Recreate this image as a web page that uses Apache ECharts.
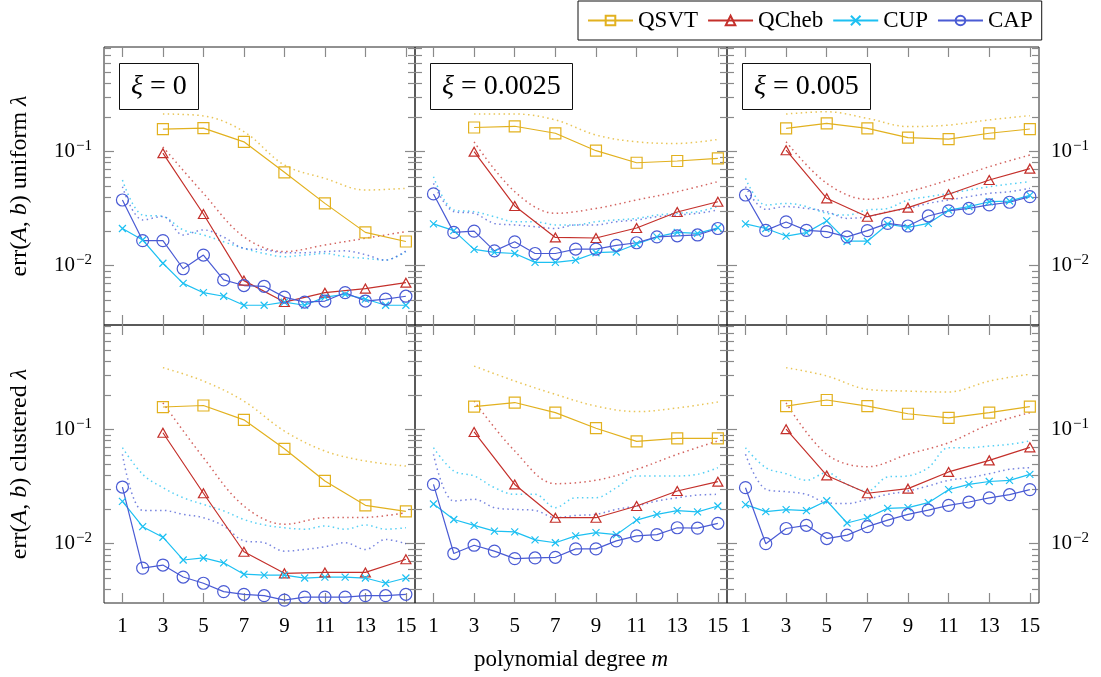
<!DOCTYPE html>
<html><head><meta charset="utf-8">
<script src="https://cdn.jsdelivr.net/npm/echarts@6/dist/echarts.min.js"></script>
<style>html,body{margin:0;padding:0;background:#fff}#c{width:1101px;height:677px}</style>
</head><body><div id="c"></div>
<script>
// ---------- data ----------
const M_ALL = [1,2,3,4,5,6,7,8,9,10,11,12,13,14,15];
const M_ODD = [3,5,7,9,11,13,15];
const X_TICKS = [1,3,5,7,9,11,13,15];
const Y_MAJOR = [0.01, 0.1];
const Y_MINOR = [0.003,0.004,0.005,0.006,0.007,0.008,0.009,0.02,0.03,0.04,0.05,0.06,0.07,0.08,0.09,0.2,0.3,0.4,0.5,0.6,0.7,0.8];
const XI_LABELS = ['0', '0.0025', '0.005'];
const ROW_LABELS = ['uniform', 'clustered'];
const SERIES_NAMES = ['QSVT', 'QCheb', 'CUP', 'CAP'];

// uniform λ, ξ = 0
const QSVT_U0 = [0.158, 0.161, 0.122, 0.0659, 0.0352, 0.0196, 0.0163];
const QCHEB_U0 = [0.097, 0.0284, 0.0074, 0.0048, 0.0058, 0.0063, 0.0071];
const CUP_U0 = [0.0212, 0.0168, 0.0105, 0.0070, 0.0058, 0.0054, 0.0045, 0.0045, 0.0048, 0.0045, 0.0053, 0.0056, 0.0051, 0.0045, 0.0045];
const CAP_U0 = [0.0377, 0.0166, 0.0166, 0.0094, 0.0124, 0.0075, 0.0067, 0.0066, 0.0053, 0.0048, 0.0049, 0.0058, 0.0049, 0.0051, 0.0054];
const QSVT_DOT_U0 = [0.214, 0.206, 0.150, 0.0763, 0.0583, 0.0461, 0.0477];
const QCHEB_DOT_U0 = [0.11, 0.0431, 0.0179, 0.0133, 0.0152, 0.0174, 0.0199];
const CUP_DOT_U0 = [0.0564, 0.0278, 0.027, 0.0206, 0.0186, 0.0162, 0.0142, 0.0128, 0.012, 0.0124, 0.0128, 0.012, 0.0116, 0.0112, 0.0133];
const CAP_DOT_U0 = [0.0493, 0.0252, 0.027, 0.0186, 0.0206, 0.0178, 0.0142, 0.0138, 0.013, 0.013, 0.0133, 0.0135, 0.0125, 0.0112, 0.0135];

// uniform λ, ξ = 0.0025
const QSVT_U1 = [0.163, 0.167, 0.145, 0.102, 0.080, 0.0828, 0.0874];
const QCHEB_U1 = [0.1, 0.0334, 0.0177, 0.0175, 0.0214, 0.0296, 0.0364];
const CUP_U1 = [0.0233, 0.0203, 0.0139, 0.0131, 0.0128, 0.0107, 0.0107, 0.0112, 0.013, 0.0132, 0.0155, 0.0179, 0.0196, 0.0192, 0.0215];
const CAP_U1 = [0.0426, 0.0196, 0.0201, 0.0135, 0.0162, 0.0128, 0.0128, 0.014, 0.014, 0.0151, 0.0159, 0.0179, 0.0183, 0.0186, 0.0212];
const QSVT_DOT_U1 = [0.214, 0.214, 0.19, 0.14, 0.122, 0.118, 0.128];
const QCHEB_DOT_U1 = [0.122, 0.0446, 0.0288, 0.0318, 0.0377, 0.0446, 0.0546];
const CUP_DOT_U1 = [0.0604, 0.0308, 0.0298, 0.0269, 0.0243, 0.0243, 0.0228, 0.0228, 0.0243, 0.0252, 0.026, 0.0278, 0.0288, 0.0298, 0.033];
const CAP_DOT_U1 = [0.0527, 0.0298, 0.0288, 0.0235, 0.0228, 0.022, 0.0212, 0.0228, 0.0228, 0.0243, 0.0252, 0.0269, 0.0278, 0.0288, 0.0308];

// uniform λ, ξ = 0.005
const QSVT_U2 = [0.160, 0.177, 0.160, 0.133, 0.129, 0.145, 0.158];
const QCHEB_U2 = [0.103, 0.039, 0.0269, 0.0323, 0.0423, 0.0564, 0.071];
const CUP_U2 = [0.0233, 0.0212, 0.0182, 0.0195, 0.0247, 0.0164, 0.0164, 0.0231, 0.0217, 0.0235, 0.0307, 0.033, 0.0364, 0.0369, 0.0414];
const CAP_U2 = [0.0417, 0.0204, 0.0242, 0.0204, 0.0199, 0.0179, 0.0203, 0.0235, 0.0223, 0.0273, 0.0303, 0.0318, 0.0341, 0.036, 0.0403];
const QSVT_DOT_U2 = [0.214, 0.224, 0.196, 0.166, 0.171, 0.19, 0.207];
const QCHEB_DOT_U2 = [0.122, 0.0528, 0.0382, 0.0446, 0.0564, 0.0738, 0.0935];
const CUP_DOT_U2 = [0.0583, 0.034, 0.0352, 0.033, 0.0288, 0.0278, 0.0308, 0.0318, 0.0377, 0.0403, 0.0431, 0.0461, 0.0493, 0.052, 0.0546];
const CAP_DOT_U2 = [0.0493, 0.0312, 0.033, 0.0318, 0.0298, 0.026, 0.0269, 0.0298, 0.0318, 0.0352, 0.0377, 0.0403, 0.0431, 0.0446, 0.0477];

// clustered λ, ξ = 0
const QSVT_C0 = [0.158, 0.163, 0.122, 0.068, 0.0355, 0.0217, 0.0192];
const QCHEB_C0 = [0.094, 0.0277, 0.0085, 0.0055, 0.0056, 0.0056, 0.0073];
const CUP_C0 = [0.0235, 0.0141, 0.0114, 0.0072, 0.0075, 0.0068, 0.0054, 0.0053, 0.0053, 0.0050, 0.0051, 0.0051, 0.0050, 0.0045, 0.0050];
const CAP_C0 = [0.0314, 0.0061, 0.0065, 0.0051, 0.0045, 0.0038, 0.0036, 0.0035, 0.0032, 0.0034, 0.0034, 0.0034, 0.0035, 0.0035, 0.0036];
const QSVT_DOT_C0 = [0.35, 0.267, 0.178, 0.0973, 0.065, 0.0531, 0.048];
const QCHEB_DOT_C0 = [0.172, 0.0568, 0.0214, 0.0148, 0.0169, 0.017, 0.0187];
const CUP_DOT_C0 = [0.0695, 0.0406, 0.031, 0.0253, 0.0221, 0.0194, 0.0163, 0.0146, 0.0138, 0.0134, 0.0143, 0.0134, 0.0146, 0.0134, 0.0138];
const CAP_DOT_C0 = [0.0608, 0.0196, 0.0196, 0.0181, 0.0169, 0.0143, 0.0106, 0.0102, 0.0086, 0.0089, 0.0094, 0.0102, 0.0089, 0.0109, 0.01];

// clustered λ, ξ = 0.0025
const QSVT_C1 = [0.159, 0.173, 0.141, 0.103, 0.079, 0.0839, 0.0839];
const QCHEB_C1 = [0.0955, 0.0331, 0.0169, 0.0169, 0.0214, 0.029, 0.035];
const CUP_C1 = [0.0223, 0.0163, 0.0145, 0.0129, 0.0127, 0.0108, 0.0102, 0.0117, 0.0125, 0.012, 0.0161, 0.0181, 0.0195, 0.019, 0.0214];
const CAP_C1 = [0.0331, 0.0082, 0.0097, 0.0086, 0.0074, 0.0075, 0.0076, 0.009, 0.009, 0.0106, 0.0117, 0.012, 0.0138, 0.0137, 0.0151];
const QSVT_DOT_C1 = [0.361, 0.267, 0.204, 0.161, 0.144, 0.155, 0.175];
const QCHEB_DOT_C1 = [0.178, 0.065, 0.0336, 0.036, 0.0449, 0.0608, 0.0796];
const CUP_DOT_C1 = [0.0695, 0.0434, 0.0393, 0.031, 0.0271, 0.0271, 0.0207, 0.0253, 0.0253, 0.031, 0.0393, 0.0393, 0.0393, 0.0406, 0.0464];
const CAP_DOT_C1 = [0.0608, 0.0237, 0.0245, 0.0207, 0.02, 0.0196, 0.0169, 0.0177, 0.0181, 0.02, 0.0214, 0.0237, 0.0253, 0.0267, 0.0271];

// clustered λ, ξ = 0.005
const QSVT_C2 = [0.161, 0.182, 0.161, 0.138, 0.127, 0.141, 0.159];
const QCHEB_C2 = [0.101, 0.0397, 0.0277, 0.0304, 0.0426, 0.0538, 0.07];
const CUP_C2 = [0.022, 0.0191, 0.0199, 0.0195, 0.0238, 0.0152, 0.0169, 0.0204, 0.0207, 0.0229, 0.0298, 0.0331, 0.0351, 0.0359, 0.0406];
const CAP_C2 = [0.031, 0.01, 0.0136, 0.0145, 0.0111, 0.0119, 0.0141, 0.0161, 0.0181, 0.0197, 0.0217, 0.0232, 0.0252, 0.0269, 0.0298];
const QSVT_DOT_C2 = [0.35, 0.296, 0.226, 0.218, 0.214, 0.267, 0.306];
const QCHEB_DOT_C2 = [0.172, 0.0608, 0.0473, 0.0608, 0.0769, 0.111, 0.141];
const CUP_DOT_C2 = [0.0695, 0.0464, 0.0411, 0.036, 0.042, 0.0331, 0.029, 0.0385, 0.0393, 0.0464, 0.0695, 0.0695, 0.0719, 0.0744, 0.0796];
const CAP_DOT_C2 = [0.0608, 0.03, 0.0286, 0.0271, 0.0229, 0.0225, 0.0245, 0.0271, 0.029, 0.0321, 0.036, 0.0379, 0.0411, 0.0449, 0.0464];

// ---------- build ----------
const PANELS = [
  {row:0,col:0, s:[QSVT_U0,QCHEB_U0,CUP_U0,CAP_U0], d:[QSVT_DOT_U0,QCHEB_DOT_U0,CUP_DOT_U0,CAP_DOT_U0]},
  {row:0,col:1, s:[QSVT_U1,QCHEB_U1,CUP_U1,CAP_U1], d:[QSVT_DOT_U1,QCHEB_DOT_U1,CUP_DOT_U1,CAP_DOT_U1]},
  {row:0,col:2, s:[QSVT_U2,QCHEB_U2,CUP_U2,CAP_U2], d:[QSVT_DOT_U2,QCHEB_DOT_U2,CUP_DOT_U2,CAP_DOT_U2]},
  {row:1,col:0, s:[QSVT_C0,QCHEB_C0,CUP_C0,CAP_C0], d:[QSVT_DOT_C0,QCHEB_DOT_C0,CUP_DOT_C0,CAP_DOT_C0]},
  {row:1,col:1, s:[QSVT_C1,QCHEB_C1,CUP_C1,CAP_C1], d:[QSVT_DOT_C1,QCHEB_DOT_C1,CUP_DOT_C1,CAP_DOT_C1]},
  {row:1,col:2, s:[QSVT_C2,QCHEB_C2,CUP_C2,CAP_C2], d:[QSVT_DOT_C2,QCHEB_DOT_C2,CUP_DOT_C2,CAP_DOT_C2]}
];
const COLORS = ['#e2b11f', '#c4302b', '#1dc0f2', '#4a5bd4'];
const SYMBOLS = ['rect', 'triangle', 'path://M0 0L10 10M10 0L0 10', 'circle'];
const SYMSIZE = [11, [10, 9], 7, 12];
const XS = [M_ODD, M_ODD, M_ALL, M_ALL];

const FONT = 'Liberation Serif';
const TICK = '#8a8a8a';
const FRAME = '#222';
const LEFTS = [104, 415, 727], WIDTHS = [311, 312, 312];
const TOPS = [47, 325], HEIGHT = 278;
const XMIN = 0.09, XMAX = 15.45, LMIN = -2.52, LMAX = -0.082;
const lg = Math.log10;

const grid = [], xAxis = [], yAxis = [], series = [], title = [];
const yFmt = v => '{b|10}{s|\u2212' + Math.round(-v) + '}';
const yRich = { b: {fontFamily: FONT, fontSize: 21, color: '#000'}, s: {fontFamily: FONT, fontSize: 15, color: '#000', verticalAlign: 'top', padding: [0,0,12,1]} };
const nameRich = { r: {fontFamily: FONT, fontSize: 24, color: '#000'}, i: {fontFamily: FONT, fontSize: 24, fontStyle: 'italic', color: '#000'} };
const xNameRich = { r: {fontFamily: FONT, fontSize: 23, color: '#000'}, i: {fontFamily: FONT, fontSize: 23, fontStyle: 'italic', color: '#000'} };

PANELS.forEach((p, gi) => {
  grid.push({left: LEFTS[p.col], top: TOPS[p.row], width: WIDTHS[p.col], height: HEIGHT, show: true, borderColor: FRAME, borderWidth: 1, backgroundColor: 'transparent'});
  const bottomRow = p.row === 1;
  xAxis.push({
    gridIndex: gi, type: 'value', min: XMIN, max: XMAX, position: 'bottom',
    axisLine: {show: false}, splitLine: {show: false},
    axisTick: {show: true, inside: true, length: 10, customValues: X_TICKS, lineStyle: {color: TICK, width: 1.2}},
    axisLabel: {show: bottomRow, customValues: X_TICKS, margin: 13, fontFamily: FONT, fontSize: 21, color: '#000'},
    name: (bottomRow && p.col === 1) ? '{r|polynomial degree }{i|m}' : '',
    nameLocation: 'middle', nameGap: 45, nameTextStyle: {rich: xNameRich}
  });
  xAxis.push({
    gridIndex: gi, type: 'value', min: XMIN, max: XMAX, position: 'top',
    axisLine: {show: false}, splitLine: {show: false},
    axisTick: {show: true, inside: true, length: 10, customValues: X_TICKS, lineStyle: {color: TICK, width: 1.2}},
    axisLabel: {show: false}
  });
  const major = Y_MAJOR.map(lg), minor = Y_MINOR.map(lg);
  ['left', 'right'].forEach(pos => {
    const lab = (pos === 'left' && p.col === 0) || (pos === 'right' && p.col === 2);
    yAxis.push({
      gridIndex: gi, type: 'value', min: LMIN, max: LMAX, position: pos,
      axisLine: {show: false}, splitLine: {show: false},
      axisTick: {show: true, inside: true, length: 10, customValues: major, lineStyle: {color: TICK, width: 1.2}},
      axisLabel: {show: lab, customValues: major, formatter: yFmt, rich: yRich, margin: 12},
      name: (pos === 'left' && p.col === 0) ? ('{r|err(}{i|A}{r|, }{i|b}{r|) ' + ROW_LABELS[p.row] + ' }{i|λ}') : '',
      nameLocation: 'middle', nameRotate: 90, nameGap: 72, nameTextStyle: {rich: nameRich}
    });
    yAxis.push({
      gridIndex: gi, type: 'value', min: LMIN, max: LMAX, position: pos,
      axisLine: {show: false}, splitLine: {show: false},
      axisTick: {show: true, inside: true, length: 7, customValues: minor, lineStyle: {color: TICK, width: 1.2}},
      axisLabel: {show: false}
    });
  });
  const xi = 2 * gi, yi = 4 * gi;
  p.d.forEach((vals, k) => {
    series.push({
      type: 'line', name: SERIES_NAMES[k] + ' (dotted)', xAxisIndex: xi, yAxisIndex: yi,
      data: XS[k].map((m, j) => [m, lg(vals[j])]),
      symbol: 'none', smooth: 0.35, silent: true, z: 2,
      lineStyle: {color: COLORS[k], width: 1.5, type: [1.5, 3.4], opacity: 0.75}
    });
  });
  p.s.forEach((vals, k) => {
    series.push({
      type: 'line', name: SERIES_NAMES[k], xAxisIndex: xi, yAxisIndex: yi,
      data: XS[k].map((m, j) => [m, lg(vals[j])]),
      symbol: SYMBOLS[k], symbolSize: SYMSIZE[k], showSymbol: true, silent: true, z: 3,
      color: COLORS[k],
      lineStyle: {color: COLORS[k], width: 1.2},
      itemStyle: {color: 'rgba(255,255,255,0)', borderColor: COLORS[k], borderWidth: 1.2}
    });
  });
  if (p.row === 0) {
    title.push({
      text: '{i|ξ}{r| = ' + XI_LABELS[p.col] + '}',
      left: LEFTS[p.col] + 15, top: 63,
      backgroundColor: '#fff', borderColor: '#111', borderWidth: 1, padding: [10, 12, 9, 12],
      textStyle: {fontWeight: 'normal', rich: {
        i: {fontFamily: FONT, fontSize: 28, fontStyle: 'italic', fontWeight: 'normal', color: '#000'},
        r: {fontFamily: FONT, fontSize: 28, fontWeight: 'normal', color: '#000'}
      }}
    });
  }
});

const chart = echarts.init(document.getElementById('c'), null, {renderer: 'canvas'});
chart.setOption({
  animation: false,
  backgroundColor: '#fff',
  title: title,
  legend: {
    data: SERIES_NAMES, left: 578, top: 1, orient: 'horizontal',
    borderColor: '#111', borderWidth: 1, padding: [8, 9, 8, 9],
    itemWidth: 45, itemHeight: 12, itemGap: 9,
    backgroundColor: '#fff',
    textStyle: {fontFamily: FONT, fontSize: 23, color: '#000'}
  },
  grid: grid, xAxis: xAxis, yAxis: yAxis, series: series
});
</script></body></html>
